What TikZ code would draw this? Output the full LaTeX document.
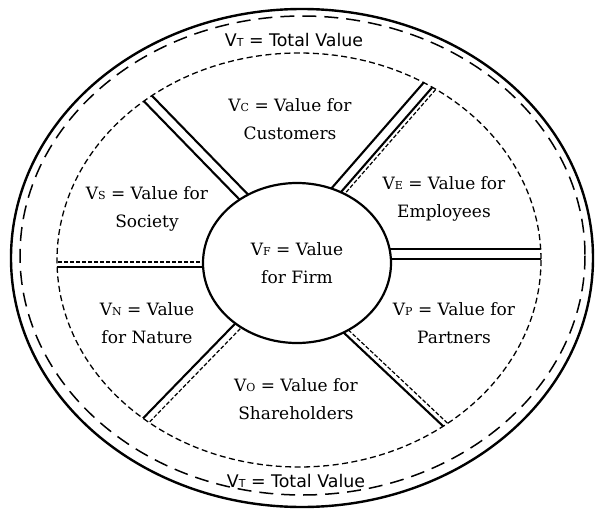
\documentclass[tikz,border=0pt]{standalone}
\usepackage{fontspec}
\setmainfont{DejaVu Serif}
\newfontfamily\totalfont{DejaVu Sans}
\usetikzlibrary{calc,shapes.geometric}

\newcommand{\val}[1]{V{\fontsize{11}{11}\selectfont #1}}

\begin{document}
\begin{tikzpicture}[x=1pt,y=-1pt,
    lbl/.style={align=center,font=\fontsize{17}{28.5}\selectfont},
    total/.style={font=\totalfont\fontsize{17.4}{20}\selectfont},
    spoke/.style={line width=2.1pt},
    spokedash/.style={line width=1.2pt,dash pattern=on 4pt off 2pt}]
    \useasboundingbox (0,0) rectangle (603,514);

    \draw[line width=2.4pt] (302,258) ellipse [x radius=291,y radius=249];
    \draw[line width=1.5pt,dash pattern=on 14pt off 8pt]
        (302.5,255.5) ellipse [x radius=282.5,y radius=239.5];

    \begin{scope}
        \clip (299,260) ellipse [x radius=242,y radius=207];
        \foreach \ax/\ay/\bx/\by/\off/\st in {
            270/224/127/77/4.8/spoke, 270/224/127/77/-4.8/spoke,
            312/218/448/62/4.8/spoke, 312/218/448/62/-4.8/spoke,
            312/218/448/62/-8.8/spokedash,
            300/254/560/254/4.8/spoke, 300/254/560/254/-4.8/spoke,
            290/264.5/40/264.5/2.6/spoke, 290/264.5/40/264.5/-2.6/spokedash,
            267/296/127/440/-3.6/spoke, 267/296/127/440/3.6/spokedash,
            316/303/468/446/-2.6/spoke, 316/303/468/446/2.6/spokedash}{
            \draw[\st] ($(\ax,\ay)!\off pt!90:(\bx,\by)$)
                -- ($(\bx,\by)!\off pt!-90:(\ax,\ay)$);
        }
    \end{scope}
    \draw[line width=1.3pt,dash pattern=on 6pt off 3.5pt]
        (299,260) ellipse [x radius=242,y radius=207];

    \node[draw,ellipse,line width=2.2pt,fill=white,inner sep=0pt,
        minimum width=188pt,minimum height=160pt,lbl] (firm) at (297,263)
        {\val{F} = Value\\for Firm};

    \node[lbl] (customers) at (290,119) {\val{C} = Value for\\Customers};
    \node[lbl] (employees) at (444,199) {\val{E} = Value for\\Employees};
    \node[lbl] (partners) at (454,323) {\val{P} = Value for\\Partners};
    \node[lbl] (shareholders) at (296,399) {\val{O} = Value for\\Shareholders};
    \node[lbl] (nature) at (147,323) {\val{N} = Value\\for Nature};
    \node[lbl] (society) at (147,209) {\val{S} = Value for\\Society};

    \node[total] (totaltop) at (294,40) {V{\fontsize{11}{11}\selectfont T} = Total Value};
    \node[total] (totalbot) at (296,481) {V{\fontsize{11}{11}\selectfont T} = Total Value};
\end{tikzpicture}
\end{document}
